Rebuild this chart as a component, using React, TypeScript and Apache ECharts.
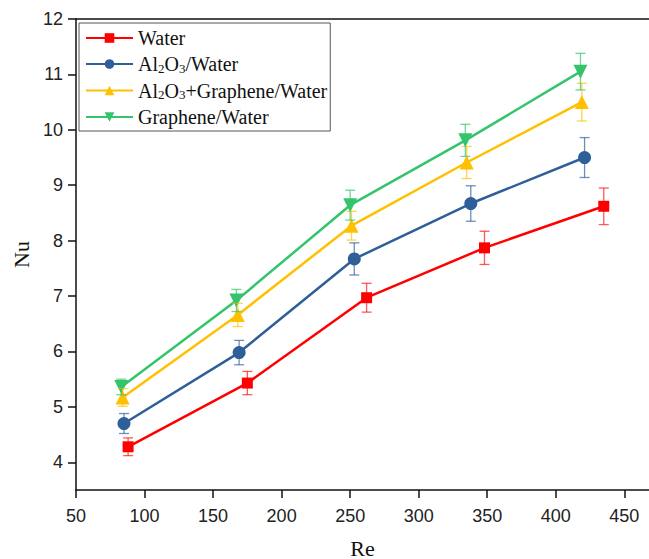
import React, { useEffect, useRef } from "react";
import * as echarts from "echarts";

const xTicks = [50, 100, 150, 200, 250, 300, 350, 400, 450];
const yTicks = [4, 5, 6, 7, 8, 9, 10, 11, 12];

const seriesNames = ["Water", "Al2O3/Water", "Al2O3+Graphene/Water", "Graphene/Water"];

const waterX = [88, 175, 262, 348, 435];
const waterY = [4.28, 5.43, 6.97, 7.87, 8.62];
const waterErr = [0.16, 0.21, 0.26, 0.3, 0.33];

const aluX = [85, 169, 253, 338, 421];
const aluY = [4.7, 5.98, 7.67, 8.67, 9.5];
const aluErr = [0.18, 0.22, 0.29, 0.32, 0.36];

const hybX = [84, 168, 251, 335, 419];
const hybY = [5.17, 6.66, 8.27, 9.41, 10.5];
const hybErr = [0.16, 0.21, 0.26, 0.29, 0.34];

const grX = [83, 167, 250, 334, 418];
const grY = [5.36, 6.92, 8.64, 9.81, 11.05];
const grErr = [0.14, 0.2, 0.27, 0.29, 0.33];

const colors = ["#ff0000", "#2f5f98", "#ffc000", "#33c46c"];
const errColors = ["rgba(255,0,0,0.65)", "rgba(47,95,152,0.7)", "rgba(255,192,0,0.7)", "rgba(51,196,108,0.7)"];
const symbols = ["rect", "circle", "triangle", "triangle"];
const symbolSizes = [11, 13, 14, 14];
const symbolRotates = [0, 0, 0, 180];

const allX = [waterX, aluX, hybX, grX];
const allY = [waterY, aluY, hybY, grY];
const allErr = [waterErr, aluErr, hybErr, grErr];

export default function App() {
  const ref = useRef<HTMLDivElement>(null);
  useEffect(() => {
    if (!ref.current) return;
    const chart = echarts.init(ref.current, null, { renderer: "svg" });

    const lineSeries = seriesNames.map((name, k) => ({
      name,
      type: "line",
      xAxisIndex: 0,
      yAxisIndex: 0,
      data: allX[k].map((x, i) => [x, allY[k][i]]),
      symbol: symbols[k],
      symbolSize: symbolSizes[k],
      symbolRotate: symbolRotates[k],
      showAllSymbol: true,
      lineStyle: { color: colors[k], width: 2.5 },
      itemStyle: { color: colors[k] },
      z: 3,
    }));

    const errSeries = seriesNames.map((name, k) => ({
      name: "err_" + name,
      type: "custom",
      xAxisIndex: 0,
      yAxisIndex: 0,
      data: allX[k].map((x, i) => [x, allY[k][i], allErr[k][i]]),
      z: 4,
      renderItem: (params: any, api: any) => {
        const x = api.value(0);
        const y = api.value(1);
        const e = api.value(2);
        const top = api.coord([x, y + e]);
        const bot = api.coord([x, y - e]);
        const hw = 5;
        const style = { stroke: errColors[k], lineWidth: 1.3 };
        return {
          type: "group",
          children: [
            { type: "line", shape: { x1: top[0], y1: top[1], x2: bot[0], y2: bot[1] }, style },
            { type: "line", shape: { x1: top[0] - hw, y1: top[1], x2: top[0] + hw, y2: top[1] }, style },
            { type: "line", shape: { x1: bot[0] - hw, y1: bot[1], x2: bot[0] + hw, y2: bot[1] }, style },
          ],
        };
      },
    }));

    const axisLineStyle = { color: "#111", width: 1.5 };

    chart.setOption({
      animation: false,
      backgroundColor: "#fff",
      grid: { left: 76, right: 0, top: 19, bottom: 69, containLabel: false, outerBoundsMode: "none" },
      legend: {
        data: seriesNames,
        orient: "vertical",
        left: 79,
        top: 23,
        padding: [5, 3, 4, 6],
        itemGap: 6,
        itemWidth: 47,
        itemHeight: 12,
        borderColor: "#555",
        borderWidth: 1,
        textStyle: {
          fontFamily: "Liberation Serif",
          fontSize: 20,
          color: "#111",
          rich: {
            s: { fontFamily: "Liberation Serif", fontSize: 13, color: "#111", padding: [8, 0, 0, 0] },
          },
        },
        formatter: (name: string) => name.replace(/(\d)/g, "{s|$1}"),
      },
      xAxis: [
        {
          type: "value",
          position: "bottom",
          min: 50,
          max: 468,
          name: "Re",
          nameLocation: "middle",
          nameGap: 47,
          nameTextStyle: { fontFamily: "Liberation Serif", fontSize: 22, color: "#111" },
          splitLine: { show: false },
          axisLine: { show: true, onZero: false, lineStyle: axisLineStyle },
          axisTick: { show: true, inside: false, length: 8, lineStyle: axisLineStyle, customValues: xTicks },
          axisLabel: {
            customValues: xTicks,
            margin: 17,
            fontFamily: "Liberation Sans",
            fontSize: 18,
            color: "#222",
          },
        },
        {
          type: "value",
          position: "top",
          min: 50,
          max: 468,
          splitLine: { show: false },
          axisLine: { show: true, onZero: false, lineStyle: axisLineStyle },
          axisTick: { show: false },
          axisLabel: { show: false },
        },
      ],
      yAxis: {
        type: "value",
        min: 3.5,
        max: 12,
        name: "Nu",
        nameLocation: "middle",
        nameGap: 44,
        nameRotate: 90,
        nameTextStyle: { fontFamily: "Liberation Serif", fontSize: 22, color: "#111" },
        splitLine: { show: false },
        axisLine: { show: true, onZero: false, lineStyle: axisLineStyle },
        axisTick: { show: true, inside: false, length: 8, lineStyle: axisLineStyle, customValues: yTicks },
        axisLabel: {
          customValues: yTicks,
          margin: 13,
          fontFamily: "Liberation Sans",
          fontSize: 18,
          color: "#222",
        },
      },
      series: [...errSeries, ...lineSeries],
    });

    return () => chart.dispose();
  }, []);

  return (
    <div
      ref={ref}
      style={{ position: "fixed", left: 0, top: 0, width: 649, height: 559 }}
    />
  );
}
